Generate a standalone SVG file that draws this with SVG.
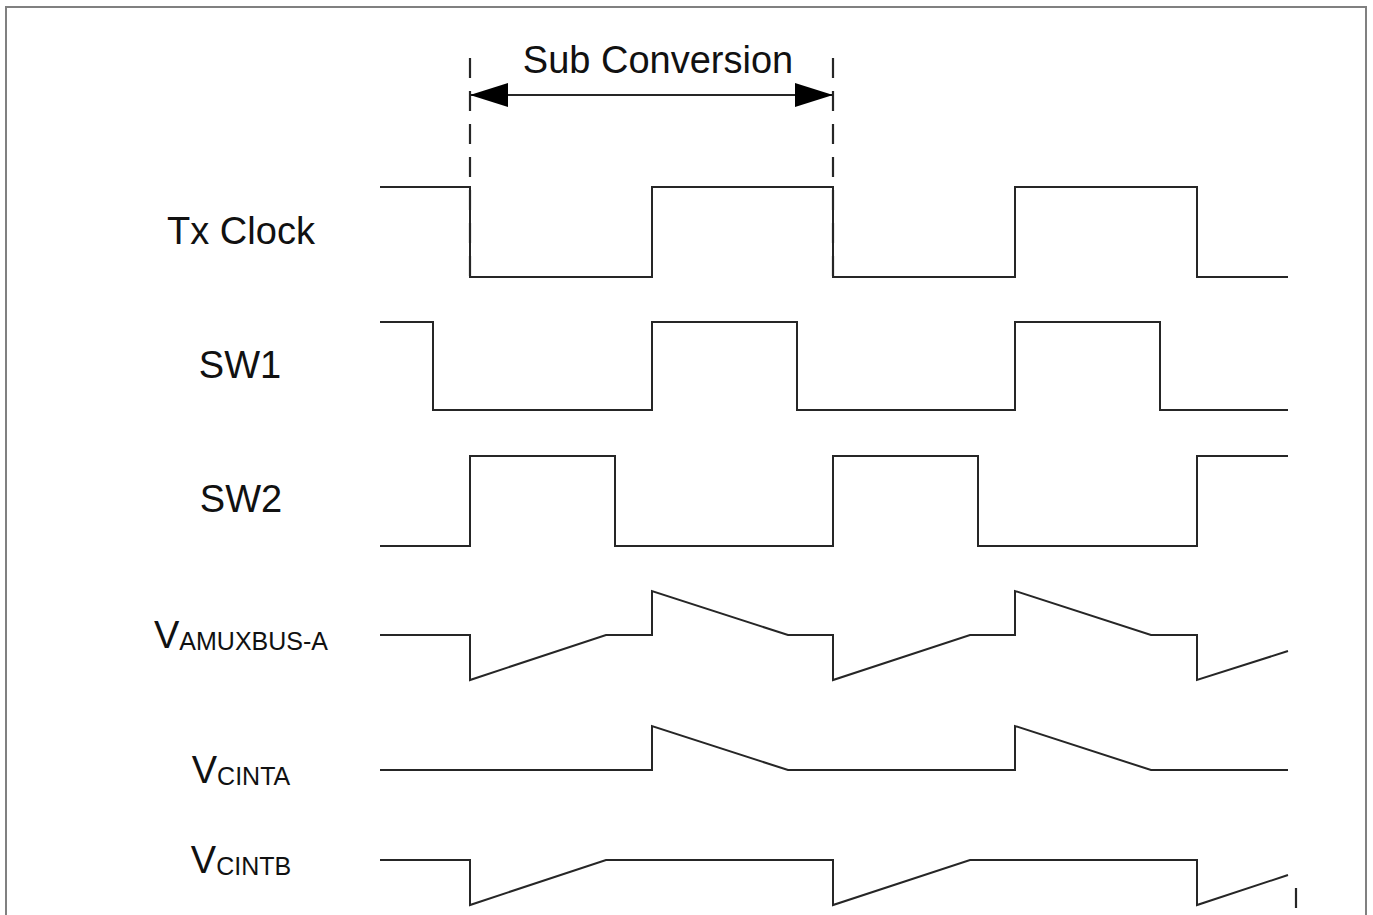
<svg xmlns="http://www.w3.org/2000/svg" width="1373" height="915" viewBox="0 0 1373 915">
<style>
.sig{fill:none;stroke:#262626;stroke-width:2;stroke-linejoin:miter}
.dash{fill:none;stroke:#262626;stroke-width:2.2;stroke-dasharray:20 13}
.lbl{font-family:"Liberation Sans",Arial,sans-serif;font-size:38px;fill:#111;text-anchor:middle}
.sub{font-size:25px}
</style>
<defs>
<marker id="ah" viewBox="0 0 38 24" refX="38" refY="12" markerWidth="38" markerHeight="24" markerUnits="userSpaceOnUse" orient="auto-start-reverse">
<path d="M0,0 L38,12 L0,24 Z" fill="#000"/>
</marker>
</defs>
<rect width="1373" height="915" fill="#fff"/>
<path d="M6,915 V7 H1366 V915" fill="none" stroke="#808080" stroke-width="2"/>
<g id="labels">
<text class="lbl" x="658" y="73">Sub Conversion</text>
<text class="lbl" x="241" y="244">Tx Clock</text>
<text class="lbl" x="240" y="378">SW1</text>
<text class="lbl" x="241" y="512">SW2</text>
<text class="lbl" x="241" y="648">V<tspan class="sub" dy="2">AMUXBUS-A</tspan></text>
<text class="lbl" x="241" y="783">V<tspan class="sub" dy="2">CINTA</tspan></text>
<text class="lbl" x="241" y="873">V<tspan class="sub" dy="2">CINTB</tspan></text>
</g>
<g id="connectors">
<path class="dash" d="M470,58 V276"/>
<path class="dash" d="M833,58 V276"/>
<path class="sig" d="M470,95 H833" marker-start="url(#ah)" marker-end="url(#ah)"/>
<path class="dash" d="M1296,888 V908" stroke-dasharray="4 3"/>
</g>
<g id="txclock">
<path class="sig" d="M380,187 H470 V277 H652 V187 H833 V277 H1015 V187 H1197 V277 H1288"/>
</g>
<g id="sw1">
<path class="sig" d="M380,322 H433 V410 H652 V322 H797 V410 H1015 V322 H1160 V410 H1288"/>
</g>
<g id="sw2">
<path class="sig" d="M380,546 H470 V456 H615 V546 H833 V456 H978 V546 H1197 V456 H1288"/>
</g>
<g id="vamuxbus">
<path class="sig" d="M380,635 H470 V680 L606,635 H652 V591 L788,635 H833 V680 L970,635 H1015 V591 L1151,635 H1197 V680 L1288,651"/>
</g>
<g id="vcinta">
<path class="sig" d="M380,770 H652 V726 L788,770 H1015 V726 L1151,770 H1288"/>
</g>
<g id="vcintb">
<path class="sig" d="M380,860 H470 V905 L606,860 H833 V905 L970,860 H1197 V905 L1288,875"/>
</g>
</svg>
